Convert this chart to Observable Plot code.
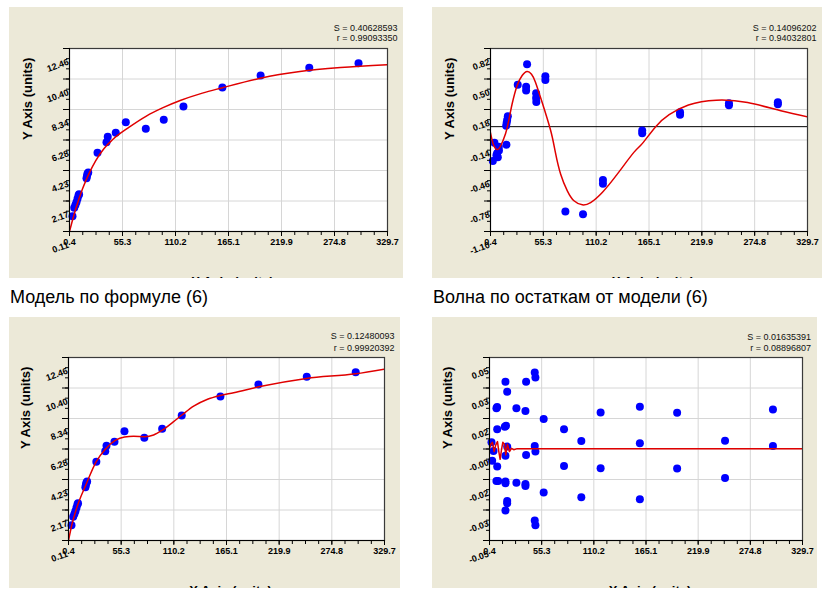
<!DOCTYPE html>
<html><head><meta charset="utf-8">
<script src="https://cdn.jsdelivr.net/npm/d3@7"></script>
<script src="https://cdn.jsdelivr.net/npm/@observablehq/plot@0.6"></script>
<style>
html,body{margin:0;padding:0;background:#fff}
body{width:828px;height:595px;position:relative;overflow:hidden;font-family:"Liberation Sans",Arial,sans-serif}
.panel{position:absolute}
.panel svg{overflow:hidden !important;display:block;background:#ECE9D8 !important}
.cap{position:absolute;font-size:18px;line-height:18px;color:#000;white-space:nowrap}
</style></head><body>
<div id="p1" class="panel" style="left:9px;top:7px"></div>
<div id="p2" class="panel" style="left:432px;top:7px"></div>
<div id="p3" class="panel" style="left:9px;top:317px"></div>
<div id="p4" class="panel" style="left:432px;top:317px"></div>
<div class="cap" style="left:10px;top:288px">Модель по формуле (6)</div>
<div class="cap" style="left:433px;top:288px">Волна по остаткам от модели (6)</div>
<script>
// ---- shared axis ----
const xDomain = [0.4, 329.7];
const xTickLabels = ["0.4","55.3","110.2","165.1","219.9","274.8","329.7"];

// ---- model panels (data) ----
const dataX = [3.5,5.3,6.5,7.6,8.7,9.7,10.3,18,18.5,19,19.8,29.4,38.7,40,48.3,58.7,79.4,98,118.4,158.7,198.3,248.7,299.7];
const dataY = [1.14,1.71,1.90,2.09,2.32,2.54,2.62,3.71,3.85,4.00,4.10,5.42,6.14,6.50,6.77,7.49,7.04,7.65,8.55,9.83,10.64,11.16,11.47];
const modelYDomain = [0.11, 12.46];
const modelYLabels = ["0.11","2.17","4.23","6.28","8.34","10.40","12.46"];

// model (6) curve, top-left
const curve1X = [0.4,3,6.9,13.9,20.8,27.6,36,44.9,62.2,80,96.7,115,138,158,198,239,281,329.7];
const curve1Y = [0.11,0.75,1.64,2.99,4.05,4.9,5.7,6.3,7.15,7.9,8.45,8.95,9.45,9.8,10.45,10.9,11.17,11.36];

// model + wave curve, bottom-left
const curve3X = [0.4,3.9,9.1,18.8,29.3,39,49.1,58.8,68.2,79.7,89.1,97.8,109.9,118.6,130.8,144.7,158.6,172.5,198.6,248.3,299.4,329.7];
const curve3Y = [0.11,1.17,2.34,3.91,5.44,6.29,6.87,7.10,7.14,7.12,7.23,7.54,8.13,8.58,9.18,9.63,9.90,10.08,10.48,11.05,11.36,11.68];

// ---- residual wave panel (top-right) ----
const resX = [2.8,4.5,6.6,7.3,8.0,9.0,9.2,16.7,17.0,17.2,17.7,18.4,28.7,37.4,37.4,38.4,47.8,47.8,48.0,57.4,57.4,78.2,96.5,117.2,117.2,158,158,197.3,197.3,248.1,248.1,298.9,298.9];
const resY = [-0.36,-0.17,-0.30,-0.28,-0.32,-0.21,-0.25,0.01,-0.19,0.04,0.07,0.11,0.44,0.38,0.42,0.655,0.35,0.30,0.26,0.49,0.53,-0.89,-0.92,-0.56,-0.60,-0.04,-0.07,0.125,0.15,0.225,0.245,0.235,0.255];
const waveX = [0.4,3.5,7.3,11,16,19.4,22.9,28.1,33.3,38.4,43,47.1,54,62.9,67.8,73.3,80.2,87.1,95.8,104.4,116.5,132.1,149.3,158,172,186,206,235,267.5,302,329.7];
const waveY = [-0.064,-0.19,-0.24,-0.2,-0.075,0.065,0.24,0.432,0.537,0.579,0.55,0.467,0.257,-0.04,-0.27,-0.50,-0.673,-0.778,-0.82,-0.796,-0.69,-0.498,-0.27,-0.178,0.0,0.125,0.228,0.278,0.253,0.166,0.103];
const resYDomain = [-1.10, 0.82];
const resYLabels = ["-1.10","-0.78","-0.46","-0.14","0.18","0.50","0.82"];

// ---- residuals of wave panel (bottom-right) ----
const res2X = [2.5,3.2,4.6,7.7,8.4,8.5,8.5,7.7,9.5,17.2,19.0,16.5,17.8,17.2,19.0,17.2,17.2,19.0,19.0,17.2,28.7,28.7,38.9,38.2,38.9,38.2,38.2,48.0,48.7,48.0,48.7,48.0,48.7,57.4,57.4,78.8,78.8,97.0,97.0,117.3,117.3,158.6,158.6,158.6,197.8,197.8,248.2,248.2,298.6,298.6];
const res2Y = [0.0026,-0.0073,-0.0021,0.0210,0.0217,0.0097,-0.0105,-0.0183,-0.0183,0.0354,0.0300,0.0111,0.0116,-0.0046,0.0003,-0.0186,-0.0195,-0.0291,-0.0303,-0.0343,0.0210,-0.0192,0.0354,0.0195,-0.0042,-0.0200,-0.0210,0.0404,0.0377,0.0006,-0.0024,-0.0397,-0.0422,0.0152,-0.0246,0.0097,-0.0102,0.0033,-0.0271,0.0188,-0.0114,0.0219,0.0021,-0.0282,0.0186,-0.0116,0.0035,-0.0167,0.0204,0.0006];
const flatX = [0.4,1.8,3.5,5.3,7.0,8.8,10.2,11.6,13.0,14.4,16.1,17.5,19.3,21.4,23.5,25.9,29.5,329.7];
const flatY = [-0.0008,0.0016,0.0026,-0.0024,0.0012,0.0030,-0.0024,-0.0066,-0.0015,0.0026,0.0016,-0.0042,0.0016,-0.0024,-0.0006,-0.0014,-0.0008,-0.0008];
const res2YDomain = [-0.0505, 0.0485];
const res2YLabels = ["-0.05","-0.03","-0.02","-0.00","0.02","0.03","0.05"];

const stats = {
  p1: ["S = 0.40628593", "r = 0.99093350"],
  p2: ["S = 0.14096202", "r = 0.94032801"],
  p3: ["S = 0.12480093", "r = 0.99920392"],
  p4: ["S = 0.01635391", "r = 0.08896807"]
};

const FONT = "'Liberation Sans', Arial, sans-serif";
const RED = "#e00000", BLUE = "#0000ff";

function panel(o) {
  const [x0, x1] = xDomain, [y0, y1] = o.yDomain;
  const xMajor = xTickLabels.map((_, i) => x0 + i * (x1 - x0) / 6);
  const yMajor = o.yLabels.map((_, i) => y0 + i * (y1 - y0) / 6);
  const xMinor = d3.range(25).map(i => x0 + i * (x1 - x0) / 24);
  const yMinor = d3.range(19).map(i => y0 + i * (y1 - y0) / 18);
  const pts = o.px.map((x, i) => ({x, y: o.py[i]}));
  const crv = o.cx.map((x, i) => ({x, y: o.cy[i]}));
  const m = o.margin;
  const marks = [
    Plot.frame({fill: "white", stroke: null}),
    Plot.gridX({ticks: xMajor, stroke: "#d6d6d6", strokeOpacity: 1}),
    Plot.gridY({ticks: yMajor, stroke: "#d6d6d6", strokeOpacity: 1}),
    o.zero ? Plot.ruleY([0], {stroke: "black", strokeWidth: 1}) : null,
    Plot.dot(pts, {x: "x", y: "y", r: 4, fill: BLUE}),
    Plot.line(crv, {x: "x", y: "y", stroke: RED, strokeWidth: 1.5, curve: o.curve, clip: true}),
    Plot.frame({stroke: "#3a3a3a", strokeWidth: 1.2}),
    Plot.ruleX([x0], {stroke: "black"}),
    Plot.ruleY([y0], {stroke: "black"}),
    Plot.axisX({ticks: xMinor, tickSize: 4, tickFormat: () => "", label: null, stroke: "black"}),
    Plot.axisX({ticks: xMajor, tickSize: 5, tickFormat: () => "", label: null, stroke: "black"}),
    Plot.axisY({ticks: yMinor, tickSize: 3, tickFormat: () => "", label: null, stroke: "black"}),
    Plot.axisY({ticks: yMajor, tickSize: 6, tickFormat: () => "", label: null, stroke: "black"}),
    Plot.text(xMajor, {x: d => d, frameAnchor: "bottom", text: (d, i) => xTickLabels[i], dy: 13.5, fontSize: 9, fontWeight: "bold", fill: "black"}),
    Plot.text(yMajor, {y: d => d, frameAnchor: "left", text: (d, i) => o.yLabels[i], textAnchor: "end", rotate: -20, dx: -1, dy: 13, fontSize: 9, fontWeight: "bold", fill: "black"}),
    Plot.text([o.stats[0]], {frameAnchor: "top-right", text: d => d, textAnchor: "end", dx: o.sdx, dy: o.sdy[0], fontSize: 9, fill: "#111", letterSpacing: "0.4px"}),
    Plot.text([o.stats[1]], {frameAnchor: "top-right", text: d => d, textAnchor: "end", dx: o.sdx, dy: o.sdy[1], fontSize: 9, fill: "#111", letterSpacing: "0.4px"}),
    Plot.text(["Y Axis (units)"], {frameAnchor: "left", text: d => d, rotate: -90, dx: o.ytdx, fontSize: 13, fontWeight: "bold", fill: "black"}),
    Plot.text(["X Axis (units)"], {frameAnchor: "bottom", text: d => d, lineAnchor: "top", dy: 45, dx: 4, fontSize: 13, fontWeight: "bold", fill: "black"})
  ].filter(Boolean);
  const svg = Plot.plot({
    width: o.width, height: 271,
    marginLeft: m[0], marginRight: m[1], marginTop: m[2], marginBottom: m[3],
    x: {domain: xDomain, label: null},
    y: {domain: o.yDomain, label: null},
    style: {background: "#ECE9D8", fontFamily: FONT, fontSize: "9px", color: "black"},
    marks
  });
  document.getElementById(o.id).appendChild(svg);
}

panel({id: "p1", width: 394, margin: [60, 16, 41, 47], yDomain: modelYDomain, yLabels: modelYLabels,
  px: dataX, py: dataY, cx: curve1X, cy: curve1Y, curve: "monotone-x",
  stats: stats.p1, sdx: 10, sdy: [-23.7, -13.7], ytdx: -42});
panel({id: "p2", width: 390, margin: [58, 15, 41, 47], yDomain: resYDomain, yLabels: resYLabels,
  px: resX, py: resY, cx: waveX, cy: waveY, curve: "natural", zero: true,
  stats: stats.p2, sdx: 9, sdy: [-24.2, -13.5], ytdx: -41});
panel({id: "p3", width: 391, margin: [59, 16, 40, 48], yDomain: modelYDomain, yLabels: modelYLabels,
  px: dataX, py: dataY, cx: curve3X, cy: curve3Y, curve: "monotone-x",
  stats: stats.p3, sdx: 10, sdy: [-24.4, -12.4], ytdx: -43});
panel({id: "p4", width: 385, margin: [57, 15, 40, 48], yDomain: res2YDomain, yLabels: res2YLabels,
  px: res2X, py: res2Y, cx: flatX, cy: flatY, curve: "linear",
  stats: stats.p4, sdx: 8.5, sdy: [-24, -12.4], ytdx: -41.5});
</script>
</body></html>
